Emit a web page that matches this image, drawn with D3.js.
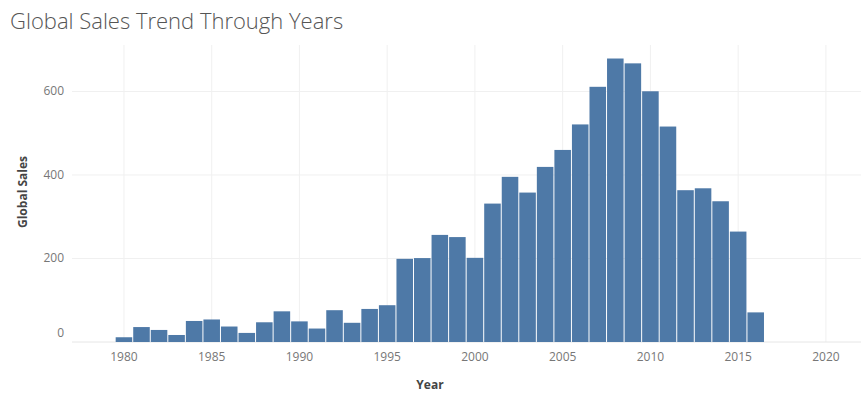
<!DOCTYPE html>
<html><head><meta charset="utf-8">
<script src="https://cdn.jsdelivr.net/npm/d3@7"></script>
<style>body{margin:0;background:#fff;font-family:"Open Sans",sans-serif}</style>
</head><body><svg id="c" width="861" height="400"></svg>
<script>
const years = d3.range(1980, 2017);
const sales = [11.38, 35.77, 28.86, 16.79, 50.36, 53.94, 37.07, 21.74, 47.22, 73.45, 49.39, 32.23, 76.16, 45.98, 79.17, 88.11, 199.15, 200.98, 256.47, 251.27, 201.56, 331.47, 395.52, 357.85, 419.31, 459.94, 521.04, 611.13, 678.9, 667.3, 600.45, 515.99, 363.54, 368.11, 337.05, 264.44, 70.93];
const xTicks = [1980, 1985, 1990, 1995, 2000, 2005, 2010, 2015, 2020];
const yTicks = [0, 200, 400, 600];

let svg = d3.select("#c");
let x = d3.scaleLinear().domain([1977.04, 2022]).range([72, 861]);
let y = d3.scaleLinear().domain([0, 700]).range([342, 49.7]);
let bw = x(1981) - x(1980);

svg.append("text").attr("x", 10).attr("y", 29).attr("font-size", 22).attr("font-weight", 300)
    .attr("fill", "#555").text("Global Sales Trend Through Years");

//grid
svg.append("g").selectAll("line").data(d3.range(1980, 2021, 5)).join("line")
    .attr("x1", d => x(d)).attr("x2", d => x(d)).attr("y1", 45).attr("y2", 342)
    .attr("stroke", "#f0f0f0");
svg.append("g").selectAll("line").data(yTicks).join("line")
    .attr("x1", 72).attr("x2", 861).attr("y1", d => y(d)).attr("y2", d => y(d))
    .attr("stroke", d => d == 0 ? "#e6e6e6" : "#f0f0f0");

svg.append("g").selectAll("rect").data(years).join("rect")
    .attr("x", (d) => x(d) - bw / 2 + 0.5).attr("width", bw - 1)
    .attr("y", (d, i) => y(sales[i])).attr("height", (d, i) => y(0) - y(sales[i]))
    .attr("fill", "#4e79a7");

svg.append("g").selectAll("text").data(xTicks).join("text")
    .attr("x", d => x(d)).attr("y", 361).attr("text-anchor", "middle")
    .attr("font-size", 12).attr("fill", "#777").text(d => d);
svg.append("g").selectAll("text").data(yTicks).join("text")
    .attr("x", 64).attr("y", d => d == 0 ? y(d) - 5 : y(d) + 4).attr("text-anchor", "end")
    .attr("font-size", 12).attr("fill", "#777").text(d => d);

svg.append("text").attr("x", 430).attr("y", 389).attr("text-anchor", "middle")
    .attr("font-size", 12).attr("font-weight", "bold").attr("fill", "#444").text("Year");
svg.append("text").attr("transform", "translate(27,192) rotate(-90)").attr("text-anchor", "middle")
    .attr("font-size", 12).attr("font-weight", "bold").attr("fill", "#444").text("Global Sales");
</script></body></html>
